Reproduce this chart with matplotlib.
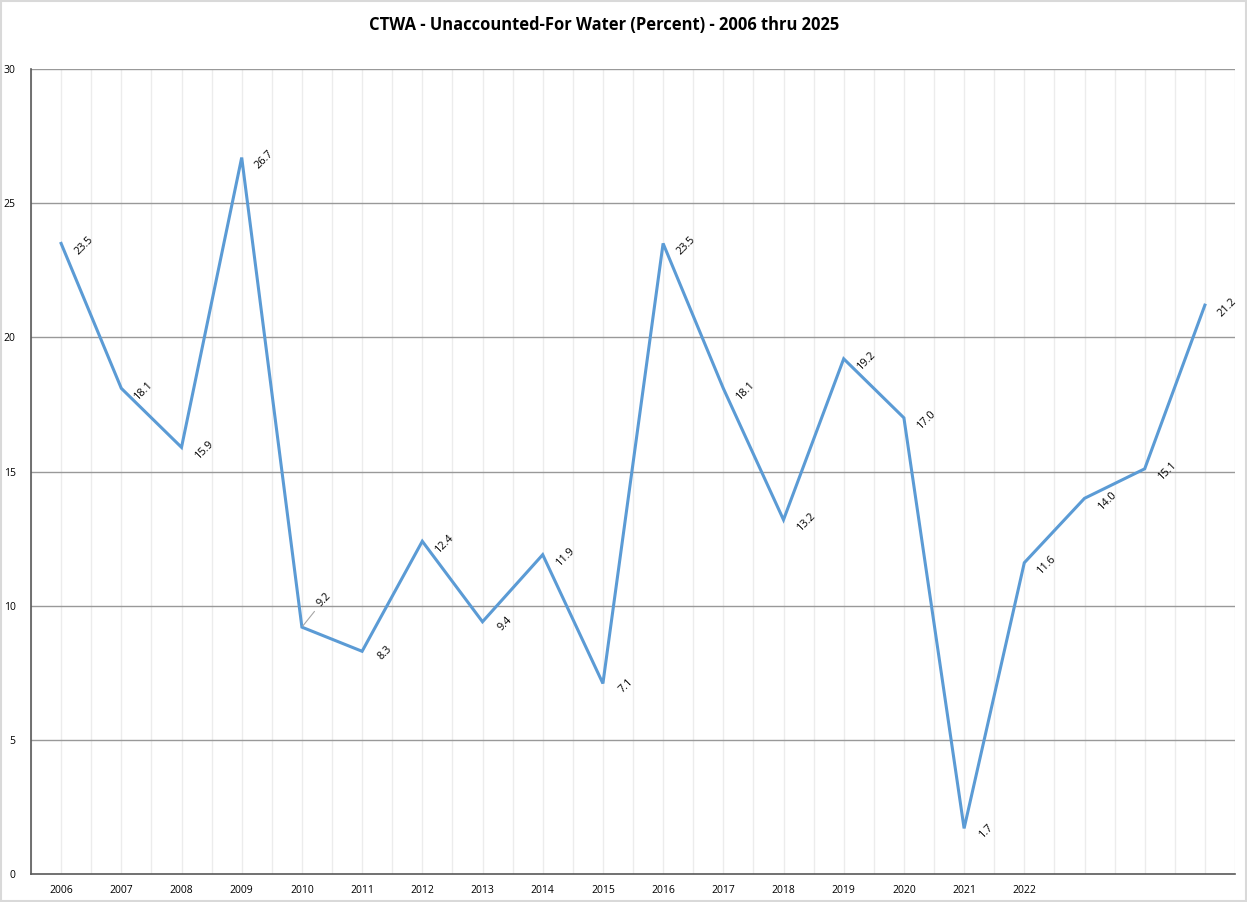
import matplotlib
matplotlib.use("Agg")
import matplotlib.pyplot as plt
from matplotlib.patches import Rectangle
import numpy as np

years = [str(y) for y in range(2006, 2026)]
values = [23.5, 18.1, 15.9, 26.7, 9.2, 8.3, 12.4, 9.4, 11.9, 7.1,
          23.5, 18.1, 13.2, 19.2, 17.0, 1.7, 11.6, 14.0, 15.1, 21.2]
tick_labels = [str(y) for y in range(2006, 2023)] + ["", "", ""]
y_ticks = [0, 5, 10, 15, 20, 25, 30]
title = "CTWA - Unaccounted-For Water (Percent) - 2006 thru 2025"

plt.rcParams['font.family'] = ['Open Sans', 'DejaVu Sans']

W, H = 1247, 902
fig = plt.figure(figsize=(W / 100, H / 100), dpi=100)
fig.patches.append(Rectangle((0.001, 0.001), 0.998, 0.998, transform=fig.transFigure,
                             fill=False, edgecolor='#d9d9d9', linewidth=1.5))

ax = fig.add_axes([31 / W, (H - 874) / H, 1204 / W, 805 / H])
x = np.arange(len(values))
ax.plot(x, values, color='#5B9BD5', linewidth=2.2, solid_joinstyle='miter', zorder=3)

ax.set_xlim(-0.5, len(values) - 0.5)
ax.set_ylim(0, 30)
ax.set_yticks(y_ticks)
ax.set_yticklabels([str(v) for v in y_ticks], fontsize=7.5)
ax.set_xticks(x)
ax.set_xticklabels(tick_labels, fontsize=7.5)
ax.tick_params(axis='both', length=0)
ax.tick_params(axis='y', pad=11)
ax.tick_params(axis='x', pad=8)

# vertical light gridlines at categories and midpoints
for v in np.arange(-0.5, len(values), 0.5):
    ax.axvline(v, color='#ececec', linewidth=1, zorder=1)
for v in y_ticks[1:]:
    ax.axhline(v, color='#999999', linewidth=1, zorder=2)

for s in ['top', 'right']:
    ax.spines[s].set_visible(False)
for s in ['left', 'bottom']:
    ax.spines[s].set_color('#595959')
    ax.spines[s].set_linewidth(1.2)

for i, v in enumerate(values):
    if i == 4:
        ax.annotate(f"{v:.1f}", xy=(i, v), xytext=(16, 20), textcoords='offset points',
                    rotation=45, ha='center', va='center', fontsize=7.8,
                    arrowprops=dict(arrowstyle='-', color='#a6a6a6', lw=0.8,
                                    shrinkA=0, shrinkB=1))
    else:
        ax.annotate(f"{v:.1f}", xy=(i, v), xytext=(16.5, -1.5), textcoords='offset points',
                    rotation=45, ha='center', va='center', fontsize=7.8)

fig.text(604 / W, 1 - 25 / H, title, ha='center', va='center', fontsize=11.9, fontweight='bold')

fig.savefig("out.png", dpi=100)
